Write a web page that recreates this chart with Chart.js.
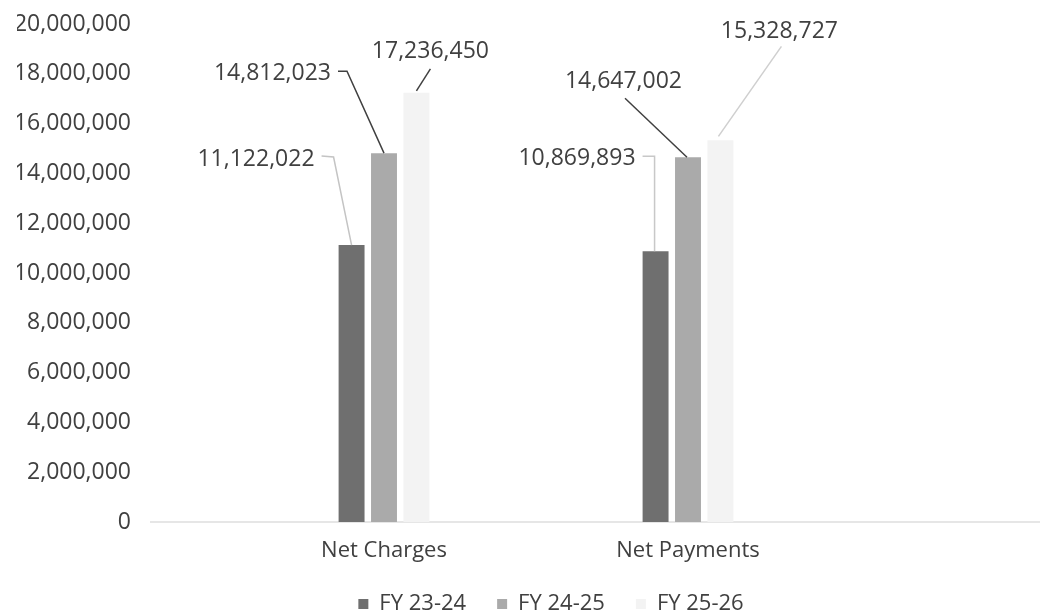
<!DOCTYPE html>
<html>
<head>
<meta charset="utf-8">
<script src="https://cdn.jsdelivr.net/npm/chart.js@4"></script>
<style>
    body { margin: 0; background: #ffffff; }
    #wrap { width: 1049px; height: 611px; }
</style>
</head>
<body>
<div id="wrap"><canvas id="chart" width="1049" height="611"></canvas></div>
<script>
// ================= DATA =================
const categories = ["Net Charges", "Net Payments"];
const seriesNames = ["FY 23-24", "FY 24-25", "FY 25-26"];
const fy2324 = [11122022, 10869893];
const fy2425 = [14812023, 14647002];
const fy2526 = [17236450, 15328727];
const yTicks = [0, 2000000, 4000000, 6000000, 8000000, 10000000, 12000000, 14000000, 16000000, 18000000, 20000000];

// ================= STYLE =================
const textColor = "#404040";
const fontFamily = "'Open Sans', 'Liberation Sans', sans-serif";
const barColors = ["#6f6f6f", "#aaaaaa", "#f3f3f3"];

// label offsets relative to the bar top (text anchor + leader line points)
const labelLayout = [
    [
        { dx: -37, dy: -86, align: "right", line: [[-30, -89], [-18, -88], [0, 0]], color: "#c4c4c4" },
        { dx: -20, dy: -93, align: "right", line: [[-13, -95], [-1, -95], [-1, 0]], color: "#c8c8c8" }
    ],
    [
        { dx: -53, dy: -80, align: "right", line: [[-46, -82], [-37, -82], [0, 0]], color: "#404040" },
        { dx: -6, dy: -76, align: "right", line: [[-63, -59], [-1, 0]], color: "#404040" }
    ],
    [
        { dx: 14, dy: -41, align: "center", line: [[14, -24], [0, -2]], color: "#404040" },
        { dx: 59, dy: -109, align: "center", line: [[61, -94], [-2, -4]], color: "#cfcfcf" }
    ]
];

const fmt = v => Number(v).toLocaleString("en-US");

// ================= PLUGINS =================
const baseline = {
    id: "baseline",
    beforeDatasetsDraw(chart) {
        const ctx = chart.ctx;
        const y = chart.scales.y.getPixelForValue(0);
        ctx.save();
        ctx.strokeStyle = "#e6e6e6";
        ctx.lineWidth = 2;
        ctx.beginPath();
        ctx.moveTo(150, y);
        ctx.lineTo(1040, y);
        ctx.stroke();
        ctx.restore();
    }
};

// legend sits a little right of the plot centre in the original
const legendShift = {
    id: "legendShift",
    afterLayout(chart) {
        chart.legend.left += 15;
        chart.legend.right += 15;
    }
};

const dataLabels = {
    id: "dataLabels",
    afterDatasetsDraw(chart) {
        const ctx = chart.ctx;
        ctx.save();
        ctx.font = "23px " + fontFamily;
        ctx.textBaseline = "middle";
        chart.data.datasets.forEach((ds, di) => {
            const meta = chart.getDatasetMeta(di);
            meta.data.forEach((bar, i) => {
                const lay = labelLayout[di][i];
                const x = bar.x;
                const y = bar.y;

                ctx.strokeStyle = lay.color;
                ctx.lineWidth = 1.5;
                ctx.beginPath();
                lay.line.forEach((p, k) => {
                    if (k === 0) ctx.moveTo(x + p[0], y + p[1]);
                    else ctx.lineTo(x + p[0], y + p[1]);
                });
                ctx.stroke();

                ctx.fillStyle = textColor;
                ctx.textAlign = lay.align;
                ctx.fillText(fmt(ds.data[i]), x + lay.dx, y + lay.dy);
            });
        });
        ctx.restore();
    }
};

// ================= CHART =================
new Chart(document.getElementById("chart"), {
    type: "bar",
    data: {
        labels: categories,
        datasets: [fy2324, fy2425, fy2526].map((values, i) => ({
            label: seriesNames[i],
            data: values,
            backgroundColor: barColors[i],
            borderWidth: 0,
            categoryPercentage: 0.32,
            barPercentage: 0.8
        }))
    },
    options: {
        responsive: false,
        animation: false,
        layout: {
            padding: { left: 17, right: 209, top: 24, bottom: -14 }
        },
        scales: {
            y: {
                min: yTicks[0],
                max: yTicks[yTicks.length - 1],
                afterBuildTicks: axis => {
                    axis.ticks = yTicks.map(v => ({ value: v }));
                },
                // wide gap between labels and plot, without the extra vertical padding
                afterFit: axis => {
                    axis.width = 215;
                    axis.paddingTop = 13;
                    axis.paddingBottom = 13;
                },
                grid: { display: false, drawTicks: false },
                border: { display: false },
                ticks: {
                    padding: 101,
                    color: textColor,
                    font: { family: fontFamily, size: 23 },
                    callback: v => fmt(v)
                }
            },
            x: {
                afterFit: axis => {
                    axis.height = 40;
                },
                grid: { display: false, drawTicks: false },
                border: { display: false },
                ticks: {
                    padding: 16,
                    color: textColor,
                    font: { family: fontFamily, size: 22 }
                }
            }
        },
        plugins: {
            tooltip: { enabled: false },
            legend: {
                position: "bottom",
                fullSize: false,
                labels: {
                    boxWidth: 10,
                    boxHeight: 10,
                    padding: 31,
                    color: textColor,
                    font: { family: fontFamily, size: 22 }
                }
            }
        }
    },
    plugins: [baseline, legendShift, dataLabels]
});
</script>
</body>
</html>
